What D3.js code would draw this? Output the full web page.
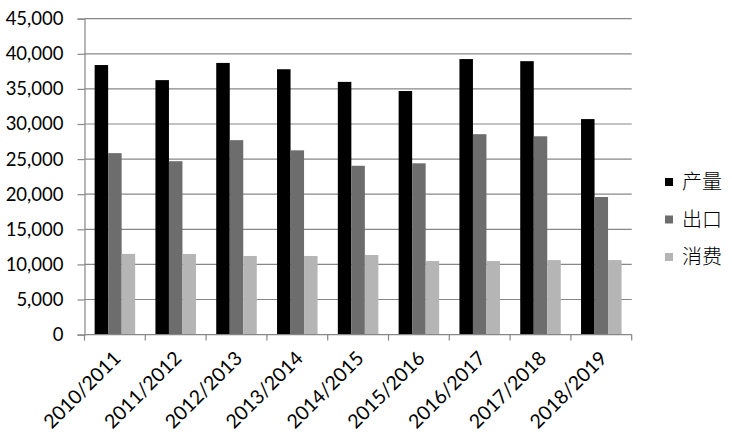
<!DOCTYPE html>
<html><head><meta charset="utf-8">
<script src="https://cdn.jsdelivr.net/npm/d3@7"></script>
<style>body{margin:0;background:#fff}svg{display:block}</style>
</head><body>
<svg id="c" width="732" height="439"></svg>
<script>
const categories = ["2010/2011","2011/2012","2012/2013","2013/2014","2014/2015","2015/2016","2016/2017","2017/2018","2018/2019"];
const seriesNames = ["产量","出口","消费"];
const production = [38400,36250,38700,37800,36000,34700,39250,38950,30700];
const exports_ = [25850,24700,27700,26250,24050,24400,28550,28250,19600];
const consumption = [11500,11480,11200,11200,11340,10480,10480,10620,10620];
const yTicks = [0,5000,10000,15000,20000,25000,30000,35000,40000,45000];
const colors = ["#000000","#6d6d6d","#b5b5b5"];

const seriesValues = [production, exports_, consumption];
const svg = d3.select("#c");
const L = 84.5, R = 631.7, T = 18.7, B = 334.6;
const x = d3.scaleBand().domain(categories).range([L, R]);
const xi = d3.scaleBand().domain(seriesNames).range([x.bandwidth()/6, x.bandwidth()*5/6]);
const y = d3.scaleLinear().domain([0,45000]).range([B, T]);
const numFont = "Lato, 'Open Sans', sans-serif";

// gridlines
svg.append("g").selectAll("line").data(yTicks.filter(d=>d>0)).join("line")
  .attr("x1", L).attr("x2", R).attr("y1", d=>y(d)).attr("y2", d=>y(d))
  .attr("stroke", "#878787").attr("stroke-width", 1.2);

// bars
const g = svg.append("g").selectAll("g").data(categories).join("g")
  .attr("transform", d=>`translate(${x(d)},0)`);
g.selectAll("rect").data((c,i)=>seriesNames.map((s,j)=>({s, v: seriesValues[j][i], j}))).join("rect")
  .attr("x", d=>xi(d.s)).attr("width", xi.bandwidth())
  .attr("y", d=>y(d.v)).attr("height", d=>B - y(d.v))
  .attr("fill", d=>colors[d.j]);

// y axis
const yAxis = d3.axisLeft(y).tickValues(yTicks).tickFormat(d3.format(",")).tickSize(7).tickPadding(14);
const ya = svg.append("g").attr("transform", `translate(${L},0)`).call(yAxis);
ya.select(".domain").attr("stroke", "#878787").attr("stroke-width", 1.2);
ya.selectAll(".tick line").attr("stroke", "#878787").attr("stroke-width", 1.2);
ya.selectAll("text").attr("font-family", numFont).attr("font-size", 18.5).attr("fill", "#000");

// x axis
const xa = svg.append("g").attr("transform", `translate(0,${B})`);
xa.append("line").attr("x1", L).attr("x2", R).attr("stroke", "#878787").attr("stroke-width", 1.2);
const bounds = categories.map(c=>x(c)).concat([R]);
xa.selectAll("line.tk").data(bounds).join("line").attr("class","tk")
  .attr("x1", d=>d).attr("x2", d=>d).attr("y1", 0).attr("y2", 6)
  .attr("stroke", "#878787").attr("stroke-width", 1.2);
xa.selectAll("text").data(categories).join("text")
  .attr("transform", d=>`translate(${x(d)+x.bandwidth()/2+7},${25}) rotate(-45)`)
  .attr("text-anchor", "end").attr("font-family", numFont).attr("font-size", 19.5)
  .attr("fill", "#000").text(d=>d);

// legend
const lg = svg.append("g").selectAll("g").data(seriesNames).join("g")
  .attr("transform", (d,i)=>`translate(665,${182 + i*37.5})`);
lg.append("rect").attr("x", 0).attr("y", -4).attr("width", 8).attr("height", 8).attr("fill", (d,i)=>colors[i]);
lg.append("text").attr("x", 17).attr("y", 0).attr("dy", "0.36em")
  .attr("font-family", "'Noto Sans CJK SC', sans-serif").attr("font-weight", 300).attr("font-size", 20)
  .attr("fill", "#000").text(d=>d);
</script>
</body></html>
